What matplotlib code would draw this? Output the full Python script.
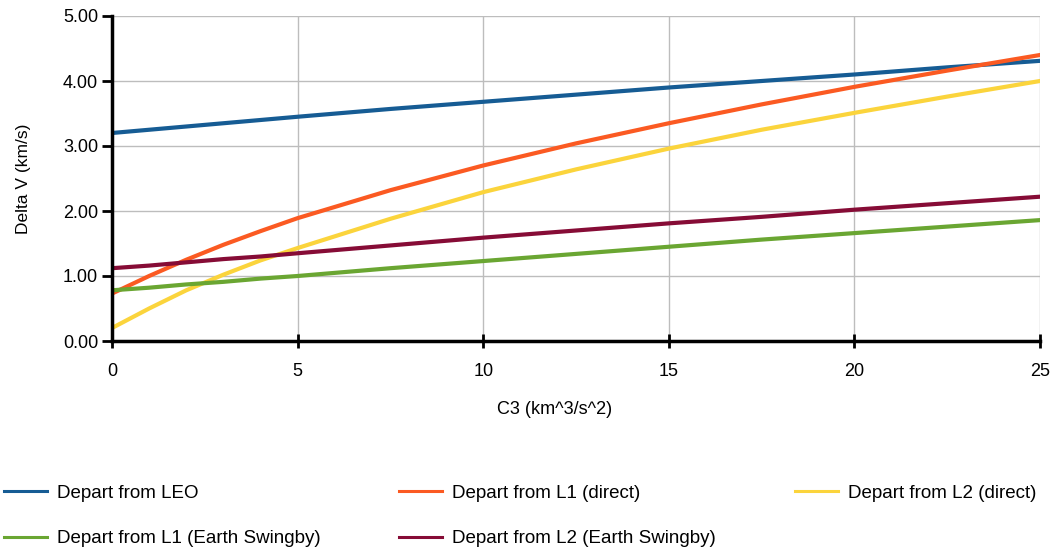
import matplotlib
matplotlib.use("Agg")
import matplotlib.pyplot as plt
from matplotlib.ticker import FormatStrFormatter

plt.rcParams['font.family'] = ['Liberation Sans', 'DejaVu Sans']

c3 = [0, 1, 2, 3, 4, 5, 7.5, 10, 12.5, 15, 17.5, 20, 22.5, 25]

# Delta V (km/s) per departure option
leo = [3.20, 3.25, 3.30, 3.35, 3.40, 3.45, 3.57, 3.68, 3.79, 3.90, 4.00, 4.10, 4.21, 4.31]
l1_direct = [0.73, 1.00, 1.25, 1.48, 1.69, 1.89, 2.32, 2.70, 3.04, 3.35, 3.64, 3.91, 4.16, 4.40]
l2_direct = [0.20, 0.50, 0.78, 1.02, 1.24, 1.43, 1.88, 2.29, 2.64, 2.96, 3.25, 3.51, 3.76, 4.00]
l1_swingby = [0.78, 0.82, 0.87, 0.91, 0.96, 1.00, 1.12, 1.23, 1.34, 1.45, 1.56, 1.66, 1.76, 1.86]
l2_swingby = [1.12, 1.16, 1.21, 1.26, 1.30, 1.35, 1.47, 1.59, 1.70, 1.81, 1.91, 2.02, 2.12, 2.22]

x_ticks = [0, 5, 10, 15, 20, 25]
y_ticks = [0, 1, 2, 3, 4, 5]

fig = plt.figure(figsize=(10.55, 5.52), dpi=100)
ax = fig.add_axes([112 / 1055, 1 - 341 / 552, (1040 - 112) / 1055, (341 - 16) / 552])

lw = 3.0
h_leo, = ax.plot(c3, leo, color='#165c94', lw=lw, label='Depart from LEO')
h_l1d, = ax.plot(c3, l1_direct, color='#fb5a22', lw=lw, label='Depart from L1 (direct)')
h_l2d, = ax.plot(c3, l2_direct, color='#fbd43c', lw=lw, label='Depart from L2 (direct)')
h_l1s, = ax.plot(c3, l1_swingby, color='#6aa632', lw=lw, label='Depart from L1 (Earth Swingby)')
h_l2s, = ax.plot(c3, l2_swingby, color='#860c36', lw=lw, label='Depart from L2 (Earth Swingby)')

ax.set_xlim(0, 25)
ax.set_ylim(0, 5)
ax.set_xticks(x_ticks)
ax.set_yticks(y_ticks)
ax.yaxis.set_major_formatter(FormatStrFormatter('%.2f'))
ax.grid(True, color='#bdbdbd', lw=1)
ax.set_axisbelow(True)

for s in ['top', 'right']:
    ax.spines[s].set_visible(False)
for s in ['left', 'bottom']:
    ax.spines[s].set_linewidth(2.5)
    ax.spines[s].set_color('black')

ax.tick_params(axis='y', direction='out', length=7, width=2, labelsize=13, pad=3)
ax.tick_params(axis='x', direction='inout', length=10, width=2, labelsize=13, pad=11)

# x label sits a bit left of centre in the original
ax.text(0.477, -0.212, 'C3 (km^3/s^2)', transform=ax.transAxes,
        ha='center', va='center', fontsize=13)
ax.set_ylabel('Delta V (km/s)', fontsize=12.5, labelpad=23)

# legend order chosen so the column-major fill reads row by row
handles = [h_leo, h_l1s, h_l1d, h_l2s, h_l2d]
fig.legend(handles=handles, labels=[h.get_label() for h in handles],
           loc='upper left', bbox_to_anchor=(0.0, 1 - 481 / 552), ncol=3,
           frameon=False, fontsize=13.5, handlelength=2.3, handletextpad=0.53,
           columnspacing=4.2, labelspacing=1.5, borderaxespad=0, borderpad=0.2)
for line in fig.legends[0].get_lines():
    line.set_linewidth(2.2)

fig.savefig('out.png', dpi=100)
